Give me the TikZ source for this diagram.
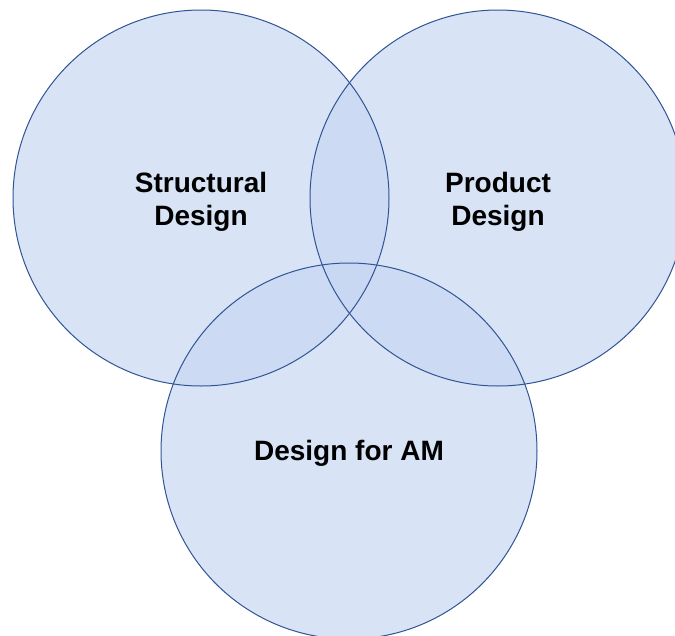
\documentclass[tikz,border=0pt]{standalone}
\usepackage{fontspec}
\setmainfont{Liberation Sans}
\usepackage{tikz}

\definecolor{vennfill}{RGB}{199,215,242}
\definecolor{vennline}{RGB}{48,84,148}

\begin{document}
\begin{tikzpicture}[
  x=1pt, y=-1pt,
  area/.style={circle, minimum size=376pt, inner sep=0pt, fill=vennfill,
               fill opacity=0.7},
  tag/.style={align=center, font=\fontsize{28}{33}\selectfont\bfseries},
  rim/.style={draw=vennline, line width=1pt},
]
\useasboundingbox (0,0) rectangle (675,635);
\clip (0,0) rectangle (675,635);
\node[area] (struct) at (201,198) {};
\node[area] (prod)   at (498,198) {};
\node[area] (am)     at (349,451) {};
% outlines on top of all fills
\foreach \c in {struct,prod,am}
  \draw[rim] (\c.center) circle[radius=188];
\node[tag, yshift=-4pt] (structtxt) at (struct) {Structural\\Design};
\node[tag, yshift=-4pt] (prodtxt)   at (prod)   {Product\\Design};
\node[tag, yshift=-2pt] (amtxt)     at (am)     {Design for AM};
\end{tikzpicture}
\end{document}
